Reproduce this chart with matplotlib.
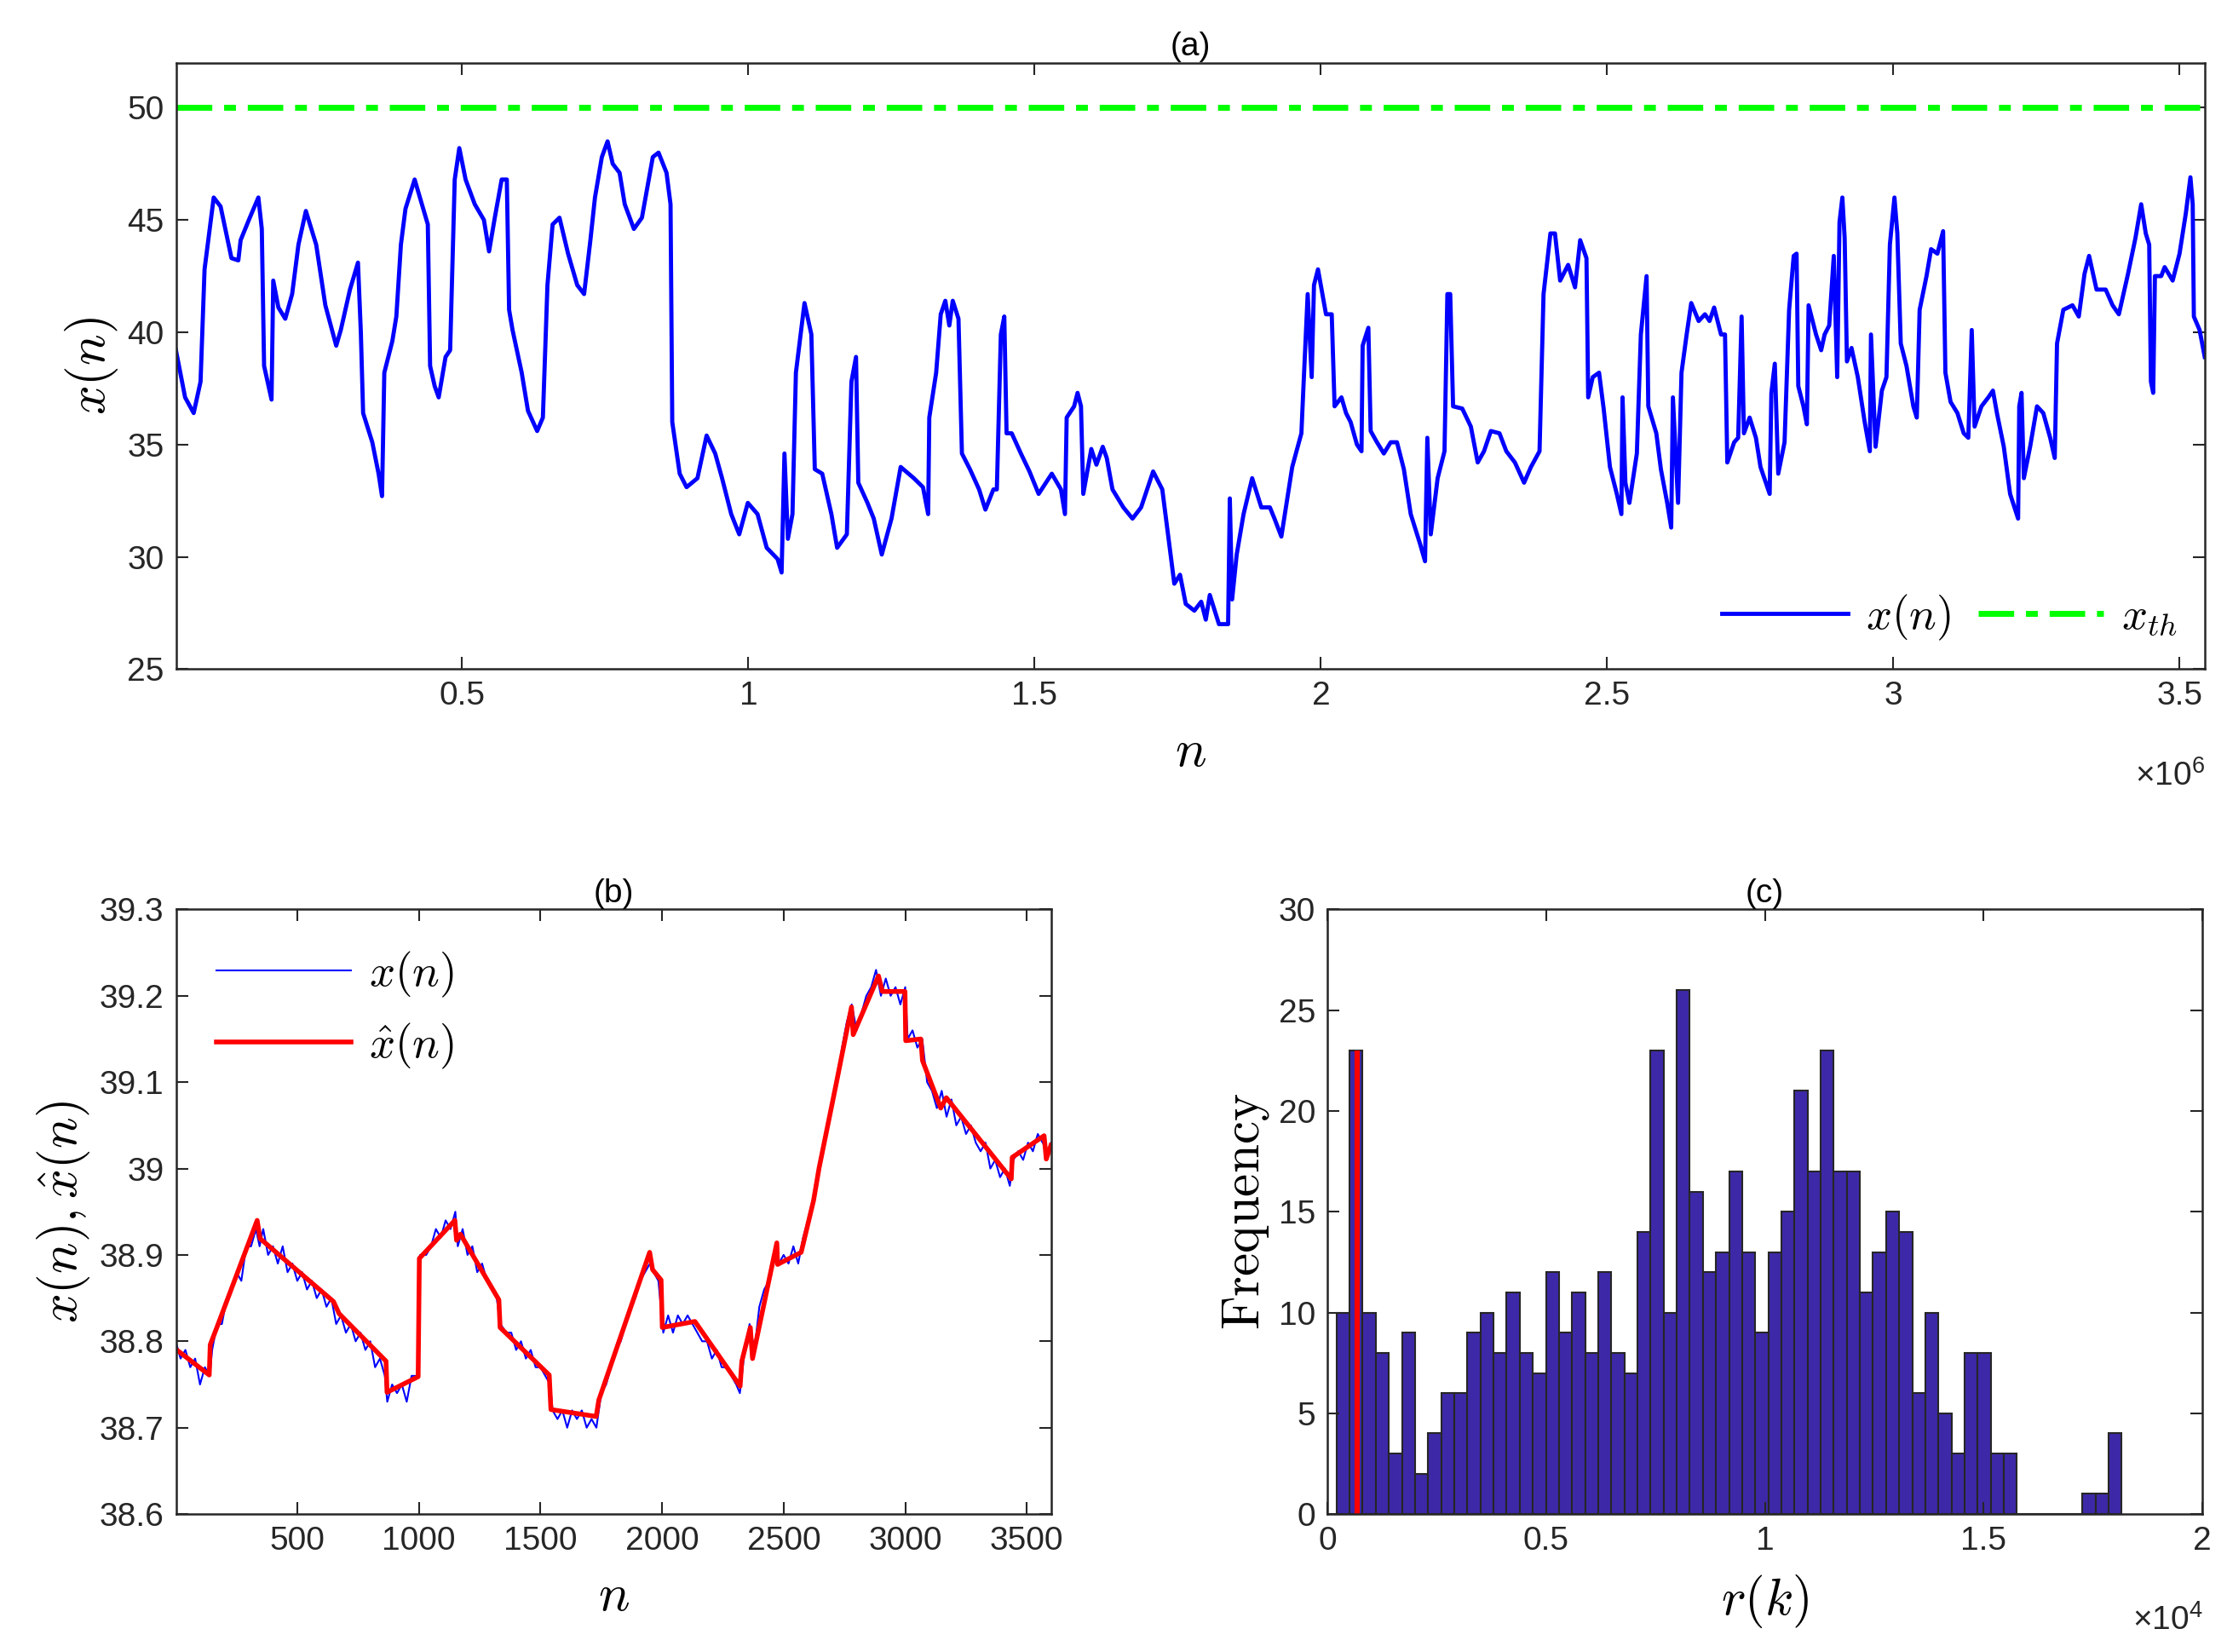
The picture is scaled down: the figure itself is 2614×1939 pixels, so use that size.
import matplotlib
matplotlib.use("Agg")
import matplotlib.pyplot as plt
import numpy as np

plt.rcParams['mathtext.fontset'] = 'cm'
plt.rcParams['font.family'] = 'Liberation Sans'

# ---------- panel (a) data (n in units of 1e6) ----------
a_n = [0,0.016,0.031,0.043,0.05,0.066,0.078,0.097,0.109,0.113,0.129,0.144,0.15,0.154,0.167,0.17,0.179,0.191,0.203,0.214,0.227,0.245,0.261,0.28,0.288,0.304,0.318,0.323,0.327,0.343,0.354,0.36,0.364,0.378,0.385,0.393,0.401,0.417,0.432,0.44,0.444,0.452,0.459,0.471,0.479,0.487,0.495,0.506,0.522,0.538,0.547,0.557,0.569,0.578,0.582,0.588,0.604,0.615,0.631,0.641,0.649,0.658,0.67,0.685,0.701,0.713,0.724,0.732,0.744,0.754,0.763,0.775,0.784,0.8,0.814,0.833,0.843,0.857,0.864,0.867,0.88,0.892,0.911,0.927,0.942,0.954,0.97,0.984,0.999,1.016,1.032,1.051,1.058,1.063,1.069,1.077,1.083,1.098,1.11,1.116,1.129,1.145,1.155,1.172,1.18,1.188,1.192,1.208,1.219,1.233,1.25,1.266,1.289,1.305,1.314,1.316,1.328,1.336,1.344,1.351,1.357,1.367,1.373,1.387,1.403,1.414,1.428,1.434,1.441,1.447,1.451,1.46,1.476,1.491,1.507,1.53,1.546,1.553,1.556,1.569,1.575,1.581,1.585,1.599,1.608,1.619,1.626,1.636,1.655,1.671,1.686,1.707,1.723,1.733,1.744,1.754,1.764,1.779,1.791,1.799,1.806,1.822,1.838,1.841,1.845,1.853,1.865,1.88,1.896,1.911,1.919,1.931,1.95,1.966,1.97,1.977,1.984,1.988,1.995,2.009,2.019,2.024,2.036,2.044,2.052,2.063,2.071,2.073,2.083,2.087,2.098,2.11,2.122,2.133,2.145,2.157,2.173,2.182,2.186,2.192,2.204,2.216,2.221,2.226,2.231,2.247,2.262,2.274,2.285,2.297,2.312,2.324,2.339,2.355,2.367,2.382,2.389,2.401,2.409,2.418,2.432,2.444,2.453,2.464,2.467,2.475,2.486,2.494,2.505,2.517,2.525,2.527,2.532,2.539,2.552,2.559,2.569,2.572,2.586,2.594,2.605,2.612,2.615,2.624,2.63,2.639,2.647,2.66,2.671,2.679,2.687,2.699,2.706,2.71,2.722,2.729,2.735,2.739,2.749,2.76,2.768,2.784,2.787,2.793,2.799,2.81,2.818,2.826,2.831,2.834,2.843,2.849,2.852,2.865,2.874,2.88,2.888,2.896,2.902,2.906,2.911,2.915,2.919,2.927,2.938,2.95,2.959,2.961,2.969,2.98,2.988,2.994,3.002,3.007,3.013,3.023,3.035,3.041,3.046,3.058,3.066,3.077,3.087,3.091,3.1,3.112,3.123,3.131,3.137,3.142,3.154,3.166,3.174,3.181,3.193,3.204,3.218,3.22,3.224,3.228,3.239,3.251,3.262,3.274,3.282,3.286,3.297,3.313,3.324,3.334,3.342,3.355,3.371,3.383,3.394,3.41,3.423,3.433,3.441,3.447,3.45,3.454,3.457,3.468,3.474,3.488,3.5,3.511,3.519,3.523,3.525,3.535,3.544]
a_x = [39.2,37.1,36.4,37.8,42.8,46,45.6,43.3,43.2,44.1,45.1,46,44.6,38.5,37,42.3,41.1,40.6,41.7,43.9,45.4,43.9,41.2,39.4,40.1,41.9,43.1,40,36.4,35.1,33.7,32.7,38.2,39.6,40.7,43.9,45.5,46.8,45.5,44.8,38.5,37.6,37.1,38.9,39.2,46.8,48.2,46.8,45.7,45,43.6,45.1,46.8,46.8,41,40.1,38.2,36.5,35.6,36.2,42.1,44.8,45.1,43.5,42.1,41.7,44.1,46,47.8,48.5,47.5,47.1,45.7,44.6,45.1,47.8,48,47.1,45.7,36,33.7,33.1,33.5,35.4,34.6,33.5,31.9,31,32.4,31.9,30.4,29.9,29.3,34.6,30.8,31.9,38.2,41.3,39.9,33.9,33.7,31.9,30.4,31,37.8,38.9,33.3,32.4,31.7,30.1,31.7,34,33.5,33.1,31.9,36.2,38.2,40.8,41.4,40.3,41.4,40.6,34.6,33.9,33,32.1,33,33,39.9,40.7,35.5,35.5,34.6,33.8,32.8,33.7,33,31.9,36.2,36.7,37.3,36.7,32.8,34.8,34.1,34.9,34.4,33,32.2,31.7,32.2,33.8,33,31,28.8,29.2,27.9,27.6,28,27.2,28.3,27,27,32.6,28.1,30.1,31.9,33.5,32.2,32.2,31.7,30.9,34,35.5,37.8,41.7,38,42.1,42.8,40.8,40.8,36.7,37.1,36.4,36,35,34.7,39.4,40.2,35.6,35.1,34.6,35.1,35.1,33.9,31.9,30.6,29.8,35.3,31,33.5,34.7,41.7,41.7,36.7,36.6,35.8,34.2,34.7,35.6,35.5,34.7,34.2,33.3,34,34.7,41.7,44.4,44.4,42.3,43,42,44.1,43.3,37.1,38,38.2,36.6,34,32.8,31.9,37.1,33.3,32.4,34.6,39.9,42.5,36.7,35.5,33.9,32.4,31.3,37.1,32.4,38.2,39.9,41.3,40.5,40.8,40.5,41.1,39.9,39.9,34.2,35.1,35.3,40.7,35.5,36.2,35.3,34,32.8,37.3,38.6,33.7,35.1,41,43.4,43.5,37.6,36.7,35.9,41.2,39.9,39.2,39.9,40.3,43.4,38,44.9,46,44.2,38.7,39.3,38,36,34.7,39.9,34.9,37.4,38,43.9,46,44.4,39.5,38.5,36.7,36.2,41,42.5,43.7,43.5,44.5,38.2,36.9,36.4,35.5,35.3,40.1,35.8,36.7,37.1,37.4,36.4,34.9,32.8,31.7,36.7,37.3,33.5,34.9,36.7,36.4,35.3,34.4,39.5,41,41.2,40.7,42.6,43.4,41.9,41.9,41.2,40.8,42.6,44.2,45.7,44.4,43.9,37.8,37.3,42.5,42.5,42.9,42.3,43.5,45.3,46.9,45.7,40.7,40.1,38.9]
x_th = 50
a_xticks = [0.5, 1, 1.5, 2, 2.5, 3, 3.5]
a_yticks = [25, 30, 35, 40, 45, 50]

# ---------- panel (b) data ----------
b_n = [0,20,40,60,80,100,120,140,150,170,190,210,230,250,270,290,310,330,345,360,380,400,420,440,460,480,500,520,540,560,580,600,620,640,660,680,700,720,740,760,780,800,820,840,860,870,890,910,930,950,970,995,1005,1030,1050,1070,1090,1110,1130,1150,1160,1180,1200,1220,1240,1260,1280,1300,1320,1335,1360,1380,1400,1420,1440,1460,1480,1500,1520,1540,1550,1570,1590,1610,1630,1650,1670,1690,1710,1730,1750,1770,1790,1810,1830,1850,1870,1890,1910,1930,1950,1965,1985,2005,2025,2045,2065,2085,2105,2125,2145,2165,2185,2205,2225,2245,2265,2285,2305,2320,2340,2360,2380,2400,2420,2440,2460,2480,2500,2520,2540,2560,2580,2600,2620,2640,2660,2680,2700,2720,2740,2760,2780,2800,2820,2840,2860,2880,2900,2920,2940,2960,2980,3000,3010,3030,3050,3070,3090,3110,3130,3150,3170,3190,3210,3230,3250,3270,3290,3310,3330,3350,3370,3390,3410,3430,3445,3465,3485,3505,3525,3545,3565,3585,3600]
b_x = [38.80,38.78,38.79,38.77,38.78,38.75,38.77,38.76,38.79,38.82,38.82,38.85,38.86,38.88,38.87,38.91,38.91,38.93,38.91,38.93,38.90,38.91,38.89,38.91,38.88,38.89,38.87,38.88,38.86,38.87,38.85,38.86,38.84,38.85,38.82,38.83,38.81,38.82,38.80,38.81,38.79,38.80,38.77,38.78,38.76,38.73,38.75,38.74,38.75,38.73,38.76,38.76,38.90,38.90,38.91,38.93,38.92,38.94,38.93,38.95,38.91,38.93,38.90,38.91,38.88,38.89,38.87,38.86,38.85,38.82,38.81,38.81,38.79,38.80,38.78,38.79,38.77,38.77,38.76,38.75,38.72,38.71,38.72,38.70,38.72,38.71,38.72,38.70,38.71,38.70,38.74,38.75,38.77,38.79,38.80,38.82,38.84,38.85,38.87,38.88,38.89,38.88,38.87,38.81,38.83,38.81,38.83,38.82,38.83,38.82,38.81,38.80,38.80,38.78,38.79,38.77,38.77,38.76,38.75,38.74,38.79,38.82,38.79,38.84,38.86,38.87,38.90,38.89,38.90,38.89,38.91,38.89,38.92,38.94,38.96,38.99,39.02,39.05,39.08,39.10,39.14,39.17,39.19,39.16,39.18,39.20,39.21,39.23,39.20,39.22,39.20,39.21,39.19,39.21,39.15,39.16,39.14,39.15,39.10,39.09,39.07,39.09,39.06,39.08,39.05,39.06,39.04,39.05,39.03,39.02,39.03,39.00,39.01,38.99,39.00,38.98,39.01,39.02,39.01,39.03,39.02,39.04,39.03,39.02,39.03]
bh_n = [0,138,142,172,335,347,649,672,865,869,997,1002,1148,1155,1171,1329,1334,1536,1543,1729,1740,1949,1961,1996,2001,2135,2321,2328,2363,2372,2472,2475,2572,2623,2646,2716,2779,2786,2890,2906,2999,3002,3064,3071,3146,3169,3436,3440,3571,3580,3599]
bh_x = [38.791,38.761,38.796,38.818,38.940,38.919,38.846,38.832,38.777,38.741,38.759,38.896,38.940,38.917,38.924,38.848,38.816,38.761,38.721,38.713,38.732,38.903,38.883,38.871,38.816,38.823,38.748,38.777,38.816,38.780,38.914,38.889,38.903,38.963,39.001,39.098,39.187,39.155,39.223,39.205,39.205,39.148,39.150,39.125,39.070,39.082,38.988,39.013,39.038,39.011,39.027]
b_xticks = [500, 1000, 1500, 2000, 2500, 3000, 3500]
b_yticks = [38.6, 38.7, 38.8, 38.9, 39.0, 39.1, 39.2, 39.3]

# ---------- panel (c) data ----------
c_start = 211
c_width = 299
c_counts = [10,23,10,8,3,9,2,4,6,6,9,10,8,11,8,7,12,9,11,8,12,8,7,14,23,10,26,16,12,13,17,13,9,13,15,21,17,23,17,17,11,13,15,14,6,10,5,3,8,8,3,3,0,0,0,0,0,1,1,4]
c_red_pos = 680
c_red_width = 110
c_red_height = 23
c_xticks = [0, 0.5e4, 1e4, 1.5e4, 2e4]
c_xticklabels = ['0', '0.5', '1', '1.5', '2']
c_yticks = [0, 5, 10, 15, 20, 25, 30]

fig = plt.figure(figsize=(26.14, 19.39), dpi=100)
TICK = 28
LAB = 44
TC = '#262626'

def style(ax):
    ax.tick_params(direction='in', length=10, width=1.5, labelsize=TICK, top=True, right=True,
                   color=TC, labelcolor=TC, pad=10)
    for s in ax.spines.values():
        s.set_linewidth(1.8)
        s.set_color(TC)

# (a)
ax1 = fig.add_axes([0.079, 0.595, 0.911, 0.367])
ax1.plot(a_n, a_x, color='#0000ff', lw=3.5, label=r'$x(n)$')
ax1.axhline(x_th, color='#00ff00', lw=5, ls=(0, (6, 2, 2, 2)), label=r'$x_{th}$')
ax1.set_xlim(0, 3.544)
ax1.set_ylim(25, 52)
ax1.set_xticks(a_xticks)
ax1.set_xticklabels(['0.5', '1', '1.5', '2', '2.5', '3', '3.5'])
ax1.set_yticks(a_yticks)
ax1.set_xlabel(r'$n$', fontsize=LAB, labelpad=14)
ax1.set_ylabel(r'$x(n)$', fontsize=LAB, labelpad=6)
ax1.set_title('(a)', fontsize=TICK, pad=6)
ax1.text(1.0, -0.15, r'$\mathregular{\times10^{6}}$', transform=ax1.transAxes, ha='right', va='top',
         fontsize=TICK, color=TC)
ax1.legend(loc='lower right', ncol=2, frameon=False, fontsize=LAB-6, handlelength=2.8,
           columnspacing=0.6, handletextpad=0.4, borderaxespad=0.2)
style(ax1)

# (b)
ax2 = fig.add_axes([0.079, 0.0835, 0.393, 0.366])
ax2.plot(b_n, b_x, color='#0000ff', lw=1.5, label=r'$x(n)$')
ax2.plot(bh_n, bh_x, color='#ff0000', lw=4, label=r'$\hat{x}(n)$')
ax2.set_xlim(1, 3600)
ax2.set_ylim(38.6, 39.3)
ax2.set_xticks(b_xticks)
ax2.set_yticks(b_yticks)
ax2.set_yticklabels(['38.6', '38.7', '38.8', '38.9', '39', '39.1', '39.2', '39.3'])
ax2.set_xlabel(r'$n$', fontsize=LAB, labelpad=14)
ax2.set_ylabel(r'$x(n),\hat{x}(n)$', fontsize=LAB, labelpad=6)
ax2.set_title('(b)', fontsize=TICK, pad=6)
ax2.legend(loc='upper left', frameon=False, fontsize=LAB-6, handlelength=3.0, handletextpad=0.4)
style(ax2)

# (c)
ax3 = fig.add_axes([0.596, 0.0835, 0.393, 0.366])
lefts = [c_start + i * c_width for i in range(len(c_counts))]
ax3.bar(lefts, c_counts, width=c_width, align='edge', color='#3d29a8', edgecolor=TC, lw=1.5)
ax3.bar([c_red_pos], [c_red_height], width=c_red_width, align='center', color='#ff0000', edgecolor='none')
ax3.set_xlim(0, 2e4)
ax3.set_ylim(0, 30)
ax3.set_xticks(c_xticks)
ax3.set_xticklabels(c_xticklabels)
ax3.set_yticks(c_yticks)
ax3.set_xlabel(r'$r(k)$', fontsize=LAB, labelpad=14)
ax3.set_ylabel(r'$\mathrm{Frequency}$', fontsize=LAB, labelpad=6)
ax3.set_title('(c)', fontsize=TICK, pad=6)
ax3.text(1.0, -0.15, r'$\mathregular{\times10^{4}}$', transform=ax3.transAxes, ha='right', va='top',
         fontsize=TICK, color=TC)
style(ax3)

fig.savefig('out.png', dpi=100)
